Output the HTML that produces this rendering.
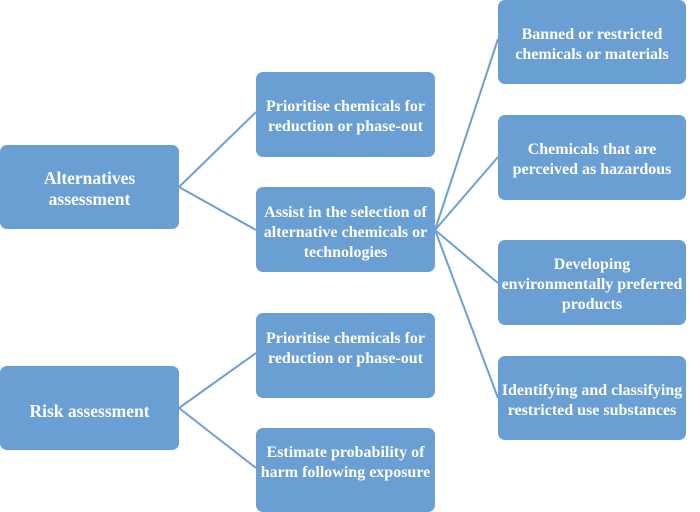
<!DOCTYPE html>
<html><head><meta charset="utf-8"><style>
html,body{margin:0;padding:0;background:#fff;}
body{width:700px;height:512px;position:relative;overflow:hidden;font-family:"Liberation Serif",serif;}
.b{position:absolute;background:#6a9fd4;border-radius:7px;color:#fff;font-weight:bold;font-size:16px;line-height:20px;display:flex;align-items:center;justify-content:center;text-align:center;box-sizing:border-box;padding:4px 2px 0 2px;white-space:nowrap;}
.big{font-size:17.5px;line-height:21px;}
svg{position:absolute;left:0;top:0;}
</style></head><body>
<svg width="700" height="512">
<g stroke="#6c9fd6" stroke-width="2" fill="none">
<line x1="179" y1="187" x2="256" y2="112"/>
<line x1="179" y1="187" x2="256" y2="230"/>
<line x1="435" y1="230" x2="498" y2="39"/>
<line x1="435" y1="230" x2="498" y2="157"/>
<line x1="435" y1="230" x2="498" y2="283"/>
<line x1="435" y1="230" x2="498" y2="398"/>
<line x1="179" y1="408" x2="256" y2="353"/>
<line x1="179" y1="408" x2="256" y2="468"/>
</g>
</svg>
<div class="b big" style="left:0;top:145px;width:179px;height:84px;">Alternatives<br>assessment</div>
<div class="b big" style="left:0;top:366px;width:179px;height:84px;padding-top:6px;">Risk assessment</div>
<div class="b" style="left:256px;top:72px;width:179px;height:85px;">Prioritise chemicals for<br>reduction or phase-out</div>
<div class="b" style="left:256px;top:187px;width:179px;height:85px;padding-top:7px;">Assist in the selection of<br>alternative chemicals or<br>technologies</div>
<div class="b" style="left:256px;top:313px;width:179px;height:85px;align-items:flex-start;padding-top:16px;">Prioritise chemicals for<br>reduction or phase-out</div>
<div class="b" style="left:256px;top:428px;width:179px;height:84px;align-items:flex-start;padding-top:15px;">Estimate probability of<br>harm following exposure</div>
<div class="b" style="left:498px;top:0;width:188px;height:84px;padding-top:6px;">Banned or restricted<br>chemicals or materials</div>
<div class="b" style="left:498px;top:115px;width:188px;height:85px;">Chemicals that are<br>perceived as hazardous</div>
<div class="b" style="left:498px;top:240px;width:188px;height:85px;">Developing<br>environmentally preferred<br>products</div>
<div class="b" style="left:498px;top:356px;width:188px;height:84px;padding-top:6px;">Identifying and classifying<br>restricted use substances</div>
</body></html>
